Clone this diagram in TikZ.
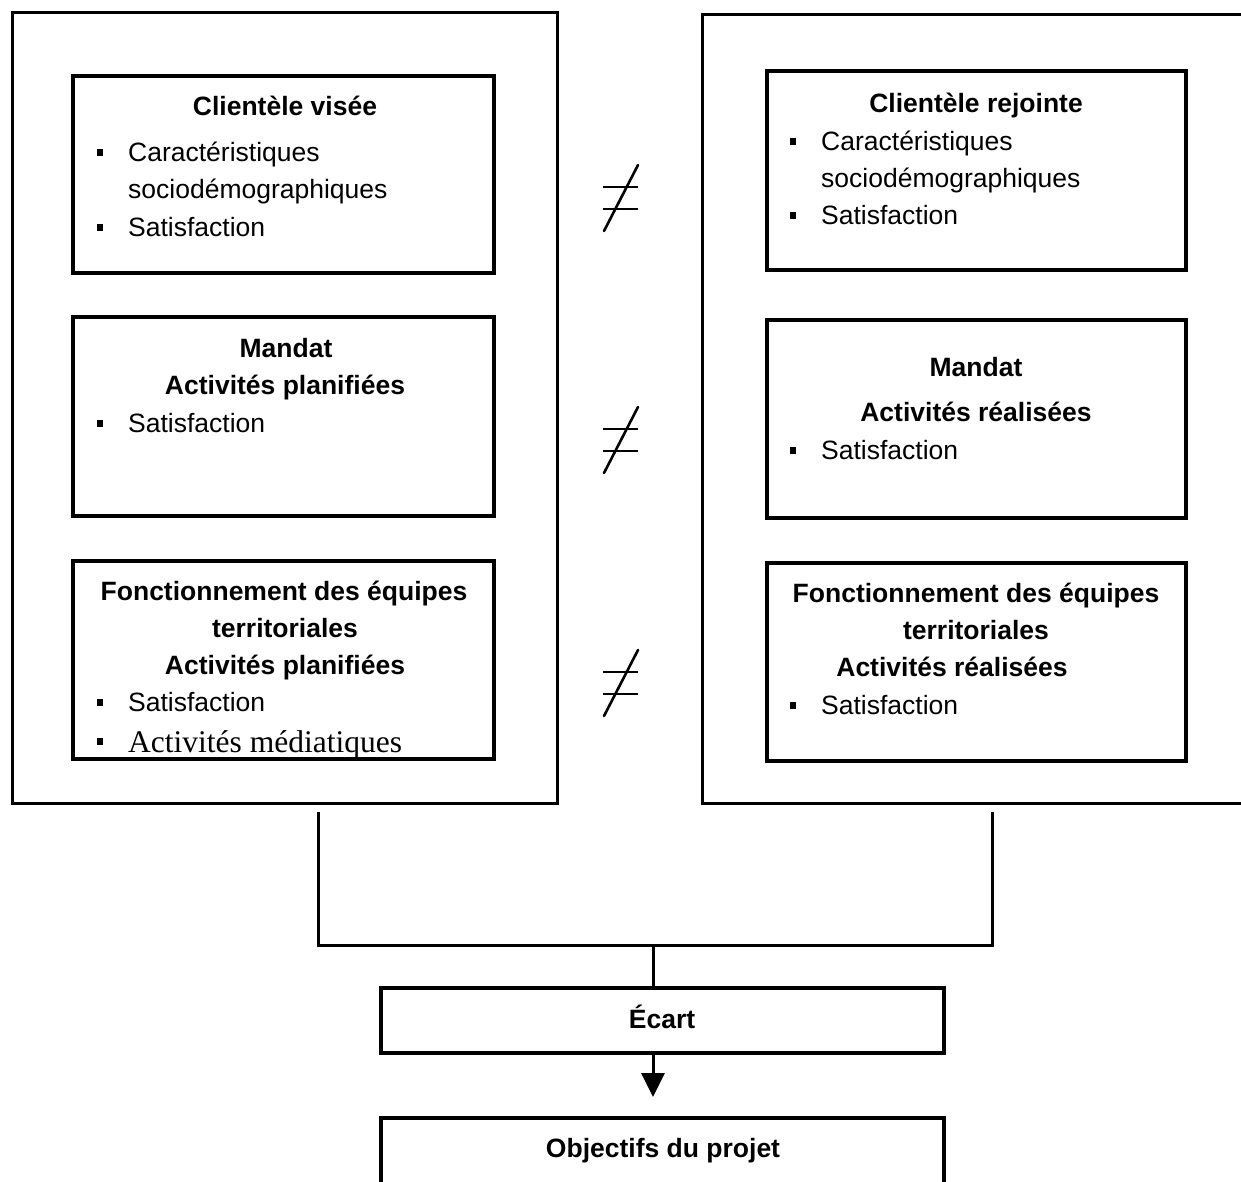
\documentclass[tikz,border=0pt]{standalone}
\usepackage{fontspec}
\setmainfont{Liberation Sans}
\newfontfamily\seriffont{Liberation Serif}
\usetikzlibrary{arrows.meta}
\tikzset{
  frame/.style={draw=black,line width=3pt,inner sep=0pt,outer sep=0pt,anchor=north west},
  box/.style={draw=black,line width=3.2pt,inner sep=0pt,outer sep=0pt,anchor=north west},
  conn/.style={draw=black,line width=3pt},
  txt/.style={font=\fontsize{26.5}{32}\selectfont,inner sep=0pt,anchor=base west},
  ttl/.style={font=\fontsize{26.5}{32}\selectfont\bfseries,inner sep=0pt,anchor=base},
  sertxt/.style={font=\fontsize{31.5}{36}\selectfont\seriffont,inner sep=0pt,anchor=base west},
  bul/.style={fill=black,inner sep=0pt,minimum width=6pt,minimum height=7pt},
  neqsign/.pic={
    \draw[line width=2.8pt] (-18,-11)--(17,-11) (-18,11)--(17,11);
    \draw[line width=2.6pt,line cap=round] (17,-33)--(-17,33);
  }
}
\begin{document}
\begin{tikzpicture}[x=1pt,y=-1pt]
\useasboundingbox (0,0) rectangle (1241,1181);
\fill[white] (0,0) rectangle (1241,1181);

% outer frames
\node[frame,minimum width=545pt,minimum height=791pt] (LO) at (12,12) {};
\node[frame,minimum width=570pt,minimum height=789pt] (RO) at (702,14) {};

% inner boxes left
\node[box,minimum width=421pt,minimum height=197pt] (L1) at (73,76) {};
\node[box,minimum width=421pt,minimum height=199pt] (L2) at (73,317) {};
\node[box,minimum width=421pt,minimum height=198pt] (L3) at (73,561) {};
% inner boxes right
\node[box,minimum width=419pt,minimum height=199pt] (R1) at (767,71) {};
\node[box,minimum width=419pt,minimum height=198pt] (R2) at (767,320) {};
\node[box,minimum width=419pt,minimum height=198pt] (R3) at (767,563) {};

% left box 1
\node[ttl] (l1t) at (285,115) {Clientèle visée};
\node[bul] (l1b1) at (100,152) {};
\node[txt] (l1a) at (128,161) {Caractéristiques};
\node[txt] (l1b) at (128,198) {sociodémographiques};
\node[bul] (l1b2) at (100,227) {};
\node[txt] (l1c) at (128,236) {Satisfaction};

% left box 2
\node[ttl] (l2t) at (286,357) {Mandat};
\node[ttl] (l2u) at (285,394) {Activités planifiées};
\node[bul] (l2b1) at (100,423) {};
\node[txt] (l2a) at (128,432) {Satisfaction};

% left box 3
\node[ttl] (l3t) at (284,600) {Fonctionnement des équipes};
\node[ttl] (l3u) at (285,637) {territoriales};
\node[ttl] (l3v) at (285,674) {Activités planifiées};
\node[bul] (l3b1) at (100,702) {};
\node[txt] (l3a) at (128,711) {Satisfaction};
\node[bul] (l3b2) at (100,741) {};
\begin{scope}
  \clip (75,700) rectangle (492,756);
  \node[sertxt] (l3b) at (128,752) {Activités médiatiques};
\end{scope}

% right box 1
\node[ttl] (r1t) at (976,112) {Clientèle rejointe};
\node[bul] (r1b1) at (793,141) {};
\node[txt] (r1a) at (821,150) {Caractéristiques};
\node[txt] (r1b) at (821,187) {sociodémographiques};
\node[bul] (r1b2) at (793,215) {};
\node[txt] (r1c) at (821,224) {Satisfaction};

% right box 2
\node[ttl] (r2t) at (976,376) {Mandat};
\node[ttl] (r2u) at (976,421) {Activités réalisées};
\node[bul] (r2b1) at (793,450) {};
\node[txt] (r2a) at (821,459) {Satisfaction};

% right box 3
\node[ttl] (r3t) at (976,602) {Fonctionnement des équipes};
\node[ttl] (r3u) at (976,639) {territoriales};
\node[ttl] (r3v) at (952,676) {Activités réalisées};
\node[bul] (r3b1) at (793,705) {};
\node[txt] (r3a) at (821,714) {Satisfaction};

% not-equal signs
\pic at (621,198) {neqsign};
\pic at (621,440) {neqsign};
\pic at (621,683) {neqsign};

% lower boxes
\node[box,minimum width=563pt,minimum height=65pt] (E) at (381,988) {};
\node[ttl] (Et) at (662,1028) {Écart};
\node[box,minimum width=563pt,minimum height=90pt] (O) at (381,1118) {};
\node[ttl] (Ot) at (663,1157) {Objectifs du projet};

% connectors
\coordinate (jL) at (318,812);
\coordinate (jR) at (992,812);
\coordinate (hub) at (653,945);
\draw[conn] (jL) |- (hub) -| (jR);
\draw[conn] (hub) -- (hub |- E.north);
\draw[conn,-{Triangle[width=23pt,length=24pt]},shorten >=21pt] (hub |- E.south) -- (hub |- O.north);
\end{tikzpicture}
\end{document}
